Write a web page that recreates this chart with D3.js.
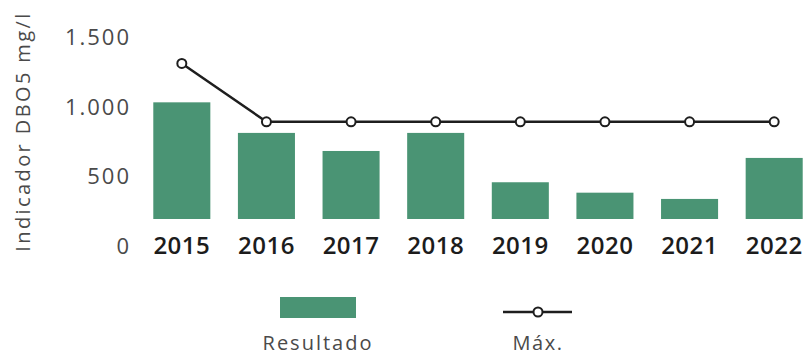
<!DOCTYPE html>
<html><head><meta charset="utf-8">
<script src="https://cdn.jsdelivr.net/npm/d3@7"></script>
<style>
html,body{margin:0;padding:0;background:#fff;}
svg{display:block;}
</style></head>
<body>
<svg id="chart" width="812" height="355"></svg>
<script>
const years = ["2015","2016","2017","2018","2019","2020","2021","2022"];
const resultado = [1030, 810, 680, 810, 455, 380, 335, 630];
const maximo = [1310, 890, 890, 890, 890, 890, 890, 890];
const yTicks = [0, 500, 1000, 1500];
const yTitle = "Indicador DBO5 mg/l";
const legendLabels = ["Resultado", "Máx."];

const barColor = "#4a9474";
const lineColor = "#1e1e1e";

const svg = d3.select("#chart");

const x = d3.scaleBand().domain(years).range([139.5, 816.5]).paddingInner(0.326).paddingOuter(0.163);
const y = d3.scaleLinear().domain([0, 1500]).range([245.5, 37]);
const barBottom = 219; // bars stop above the year label band

const loc = d3.formatLocale({decimal: ",", thousands: ".", grouping: [3], currency: ["", ""]});
const fmt = loc.format(",");

// y axis labels
const yAxis = svg.append("g").attr("transform", "translate(131,0)")
  .call(d3.axisLeft(y).tickValues(yTicks).tickFormat(fmt).tickSize(0).tickPadding(0));
yAxis.select(".domain").remove();
yAxis.selectAll("text")
  .attr("font-family", "'Open Sans', sans-serif")
  .attr("font-size", 22)
  .attr("letter-spacing", 2)
  .attr("fill", "#4a4a4a")
  .attr("dy", "0.36em");

// y title
svg.append("text")
  .attr("transform", "translate(30,131.5) rotate(-90)")
  .attr("text-anchor", "middle")
  .attr("font-family", "'Open Sans', sans-serif")
  .attr("font-size", 20)
  .attr("letter-spacing", 2.4)
  .attr("fill", "#4a4a4a")
  .text(yTitle);

// bars
svg.append("g").selectAll("rect").data(years).join("rect")
  .attr("x", d => x(d))
  .attr("width", x.bandwidth())
  .attr("y", (d, i) => y(resultado[i]))
  .attr("height", (d, i) => barBottom - y(resultado[i]))
  .attr("fill", barColor);

// x axis labels
const xAxis = svg.append("g").attr("transform", `translate(0,${y(0)})`)
  .call(d3.axisBottom(x).tickSize(0).tickPadding(0));
xAxis.select(".domain").remove();
xAxis.selectAll("text")
  .attr("y", 0)
  .attr("dy", "0.36em")
  .attr("font-family", "'Open Sans', sans-serif")
  .attr("font-weight", 600)
  .attr("font-size", 24)
  .attr("letter-spacing", 0.5)
  .attr("fill", "#1c1c1c");

// max line
const line = d3.line().x((d, i) => x(years[i]) + x.bandwidth() / 2).y(d => y(d));
svg.append("path").datum(maximo)
  .attr("d", line)
  .attr("fill", "none")
  .attr("stroke", lineColor)
  .attr("stroke-width", 2.5);
svg.append("g").selectAll("circle").data(maximo).join("circle")
  .attr("cx", (d, i) => x(years[i]) + x.bandwidth() / 2)
  .attr("cy", d => y(d))
  .attr("r", 4.5)
  .attr("fill", "#fff")
  .attr("stroke", lineColor)
  .attr("stroke-width", 2);

// legend
const lg = svg.append("g");
lg.append("rect").attr("x", 280).attr("y", 297).attr("width", 76).attr("height", 21).attr("fill", barColor);
lg.append("text").attr("x", 318).attr("y", 350).attr("text-anchor", "middle")
  .attr("font-family", "'Open Sans', sans-serif").attr("font-size", 20).attr("letter-spacing", 2)
  .attr("fill", "#4a4a4a").text(legendLabels[0]);
lg.append("line").attr("x1", 503).attr("x2", 572).attr("y1", 312).attr("y2", 312)
  .attr("stroke", lineColor).attr("stroke-width", 2.5);
lg.append("circle").attr("cx", 538).attr("cy", 312).attr("r", 4.5)
  .attr("fill", "#fff").attr("stroke", lineColor).attr("stroke-width", 2);
lg.append("text").attr("x", 538).attr("y", 350).attr("text-anchor", "middle")
  .attr("font-family", "'Open Sans', sans-serif").attr("font-size", 20).attr("letter-spacing", 1.5)
  .attr("fill", "#4a4a4a").text(legendLabels[1]);
</script>
</body></html>
